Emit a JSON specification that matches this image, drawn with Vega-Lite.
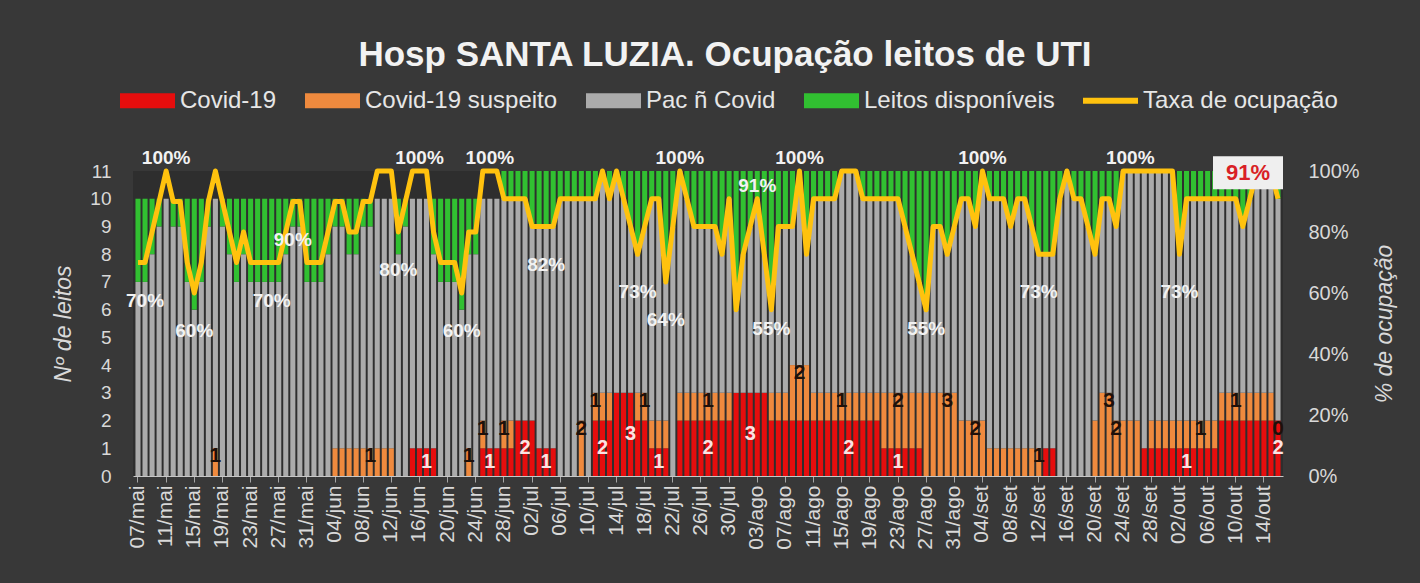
{
"$schema": "https://vega.github.io/schema/vega-lite/v6.json",
"width": 1150, "height": 305,
"autosize": {"type": "none"},
"padding": {"left": 133, "right": 137, "top": 171, "bottom": 107},
"background": "#383838",
"config": {"view": {"stroke": null, "fill": "#2e2e2e"}},
"title": {"text": "Hosp SANTA LUZIA. Ocupação leitos de UTI", "font": "Liberation Sans", "fontSize": 35, "fontWeight": "bold", "color": "#f2f2f2", "anchor": "middle", "frame": "group", "offset": 0, "dx": 17},
"data": {"values": [
{"dia":"07/mai","covid":0,"suspeito":0,"naoCovid":7,"disponiveis":3,"taxa":0.7},
{"dia":"08/mai","covid":0,"suspeito":0,"naoCovid":7,"disponiveis":3,"taxa":0.7,"rt":1},
{"dia":"09/mai","covid":0,"suspeito":0,"naoCovid":8,"disponiveis":2,"taxa":0.8},
{"dia":"10/mai","covid":0,"suspeito":0,"naoCovid":9,"disponiveis":1,"taxa":0.9},
{"dia":"11/mai","covid":0,"suspeito":0,"naoCovid":10,"disponiveis":0,"taxa":1,"rt":1},
{"dia":"12/mai","covid":0,"suspeito":0,"naoCovid":9,"disponiveis":1,"taxa":0.9},
{"dia":"13/mai","covid":0,"suspeito":0,"naoCovid":9,"disponiveis":1,"taxa":0.9},
{"dia":"14/mai","covid":0,"suspeito":0,"naoCovid":7,"disponiveis":3,"taxa":0.7},
{"dia":"15/mai","covid":0,"suspeito":0,"naoCovid":6,"disponiveis":4,"taxa":0.6,"rt":1},
{"dia":"16/mai","covid":0,"suspeito":0,"naoCovid":7,"disponiveis":3,"taxa":0.7},
{"dia":"17/mai","covid":0,"suspeito":0,"naoCovid":9,"disponiveis":1,"taxa":0.9},
{"dia":"18/mai","covid":0,"suspeito":1,"naoCovid":9,"disponiveis":0,"taxa":1,"rs":1},
{"dia":"19/mai","covid":0,"suspeito":0,"naoCovid":9,"disponiveis":1,"taxa":0.9},
{"dia":"20/mai","covid":0,"suspeito":0,"naoCovid":8,"disponiveis":2,"taxa":0.8},
{"dia":"21/mai","covid":0,"suspeito":0,"naoCovid":7,"disponiveis":3,"taxa":0.7},
{"dia":"22/mai","covid":0,"suspeito":0,"naoCovid":8,"disponiveis":2,"taxa":0.8},
{"dia":"23/mai","covid":0,"suspeito":0,"naoCovid":7,"disponiveis":3,"taxa":0.7},
{"dia":"24/mai","covid":0,"suspeito":0,"naoCovid":7,"disponiveis":3,"taxa":0.7},
{"dia":"25/mai","covid":0,"suspeito":0,"naoCovid":7,"disponiveis":3,"taxa":0.7},
{"dia":"26/mai","covid":0,"suspeito":0,"naoCovid":7,"disponiveis":3,"taxa":0.7,"rt":1},
{"dia":"27/mai","covid":0,"suspeito":0,"naoCovid":7,"disponiveis":3,"taxa":0.7},
{"dia":"28/mai","covid":0,"suspeito":0,"naoCovid":8,"disponiveis":2,"taxa":0.8},
{"dia":"29/mai","covid":0,"suspeito":0,"naoCovid":9,"disponiveis":1,"taxa":0.9,"rt":1},
{"dia":"30/mai","covid":0,"suspeito":0,"naoCovid":9,"disponiveis":1,"taxa":0.9},
{"dia":"31/mai","covid":0,"suspeito":0,"naoCovid":7,"disponiveis":3,"taxa":0.7},
{"dia":"01/jun","covid":0,"suspeito":0,"naoCovid":7,"disponiveis":3,"taxa":0.7},
{"dia":"02/jun","covid":0,"suspeito":0,"naoCovid":7,"disponiveis":3,"taxa":0.7},
{"dia":"03/jun","covid":0,"suspeito":0,"naoCovid":8,"disponiveis":2,"taxa":0.8},
{"dia":"04/jun","covid":0,"suspeito":1,"naoCovid":8,"disponiveis":1,"taxa":0.9},
{"dia":"05/jun","covid":0,"suspeito":1,"naoCovid":8,"disponiveis":1,"taxa":0.9},
{"dia":"06/jun","covid":0,"suspeito":1,"naoCovid":7,"disponiveis":2,"taxa":0.8},
{"dia":"07/jun","covid":0,"suspeito":1,"naoCovid":7,"disponiveis":2,"taxa":0.8},
{"dia":"08/jun","covid":0,"suspeito":1,"naoCovid":8,"disponiveis":1,"taxa":0.9},
{"dia":"09/jun","covid":0,"suspeito":1,"naoCovid":8,"disponiveis":1,"taxa":0.9,"rs":1},
{"dia":"10/jun","covid":0,"suspeito":1,"naoCovid":9,"disponiveis":0,"taxa":1},
{"dia":"11/jun","covid":0,"suspeito":1,"naoCovid":9,"disponiveis":0,"taxa":1},
{"dia":"12/jun","covid":0,"suspeito":1,"naoCovid":9,"disponiveis":0,"taxa":1},
{"dia":"13/jun","covid":0,"suspeito":0,"naoCovid":8,"disponiveis":2,"taxa":0.8,"rt":1},
{"dia":"14/jun","covid":0,"suspeito":0,"naoCovid":9,"disponiveis":1,"taxa":0.9},
{"dia":"15/jun","covid":1,"suspeito":0,"naoCovid":9,"disponiveis":0,"taxa":1},
{"dia":"16/jun","covid":1,"suspeito":0,"naoCovid":9,"disponiveis":0,"taxa":1,"rt":1},
{"dia":"17/jun","covid":1,"suspeito":0,"naoCovid":9,"disponiveis":0,"taxa":1,"rc":1},
{"dia":"18/jun","covid":1,"suspeito":0,"naoCovid":7,"disponiveis":2,"taxa":0.8},
{"dia":"19/jun","covid":0,"suspeito":0,"naoCovid":7,"disponiveis":3,"taxa":0.7},
{"dia":"20/jun","covid":0,"suspeito":0,"naoCovid":7,"disponiveis":3,"taxa":0.7},
{"dia":"21/jun","covid":0,"suspeito":0,"naoCovid":7,"disponiveis":3,"taxa":0.7},
{"dia":"22/jun","covid":0,"suspeito":0,"naoCovid":6,"disponiveis":4,"taxa":0.6,"rt":1},
{"dia":"23/jun","covid":0,"suspeito":1,"naoCovid":7,"disponiveis":2,"taxa":0.8,"rs":1},
{"dia":"24/jun","covid":0,"suspeito":0,"naoCovid":8,"disponiveis":2,"taxa":0.8},
{"dia":"25/jun","covid":1,"suspeito":1,"naoCovid":8,"disponiveis":0,"taxa":1,"rs":1},
{"dia":"26/jun","covid":1,"suspeito":0,"naoCovid":9,"disponiveis":0,"taxa":1,"rc":1,"rt":1},
{"dia":"27/jun","covid":1,"suspeito":0,"naoCovid":9,"disponiveis":0,"taxa":1},
{"dia":"28/jun","covid":1,"suspeito":1,"naoCovid":8,"disponiveis":1,"taxa":0.909,"rs":1},
{"dia":"29/jun","covid":1,"suspeito":1,"naoCovid":8,"disponiveis":1,"taxa":0.909},
{"dia":"30/jun","covid":2,"suspeito":0,"naoCovid":8,"disponiveis":1,"taxa":0.909},
{"dia":"01/jul","covid":2,"suspeito":0,"naoCovid":8,"disponiveis":1,"taxa":0.909,"rc":1},
{"dia":"02/jul","covid":2,"suspeito":0,"naoCovid":7,"disponiveis":2,"taxa":0.818},
{"dia":"03/jul","covid":1,"suspeito":0,"naoCovid":8,"disponiveis":2,"taxa":0.818},
{"dia":"04/jul","covid":1,"suspeito":0,"naoCovid":8,"disponiveis":2,"taxa":0.818,"rc":1,"rt":1},
{"dia":"05/jul","covid":1,"suspeito":0,"naoCovid":8,"disponiveis":2,"taxa":0.818},
{"dia":"06/jul","covid":0,"suspeito":0,"naoCovid":10,"disponiveis":1,"taxa":0.909},
{"dia":"07/jul","covid":0,"suspeito":0,"naoCovid":10,"disponiveis":1,"taxa":0.909},
{"dia":"08/jul","covid":0,"suspeito":0,"naoCovid":10,"disponiveis":1,"taxa":0.909},
{"dia":"09/jul","covid":0,"suspeito":2,"naoCovid":8,"disponiveis":1,"taxa":0.909,"rs":1},
{"dia":"10/jul","covid":0,"suspeito":0,"naoCovid":10,"disponiveis":1,"taxa":0.909},
{"dia":"11/jul","covid":2,"suspeito":1,"naoCovid":7,"disponiveis":1,"taxa":0.909,"rs":1},
{"dia":"12/jul","covid":2,"suspeito":1,"naoCovid":8,"disponiveis":0,"taxa":1,"rc":1},
{"dia":"13/jul","covid":2,"suspeito":1,"naoCovid":7,"disponiveis":1,"taxa":0.909},
{"dia":"14/jul","covid":3,"suspeito":0,"naoCovid":8,"disponiveis":0,"taxa":1},
{"dia":"15/jul","covid":3,"suspeito":0,"naoCovid":7,"disponiveis":1,"taxa":0.909},
{"dia":"16/jul","covid":3,"suspeito":0,"naoCovid":6,"disponiveis":2,"taxa":0.818,"rc":1},
{"dia":"17/jul","covid":2,"suspeito":1,"naoCovid":5,"disponiveis":3,"taxa":0.727,"rt":1},
{"dia":"18/jul","covid":2,"suspeito":1,"naoCovid":6,"disponiveis":2,"taxa":0.818,"rs":1},
{"dia":"19/jul","covid":1,"suspeito":1,"naoCovid":8,"disponiveis":1,"taxa":0.909},
{"dia":"20/jul","covid":1,"suspeito":1,"naoCovid":8,"disponiveis":1,"taxa":0.909,"rc":1},
{"dia":"21/jul","covid":1,"suspeito":1,"naoCovid":5,"disponiveis":4,"taxa":0.636,"rt":1},
{"dia":"22/jul","covid":0,"suspeito":0,"naoCovid":9,"disponiveis":2,"taxa":0.818},
{"dia":"23/jul","covid":2,"suspeito":1,"naoCovid":8,"disponiveis":0,"taxa":1,"rt":1},
{"dia":"24/jul","covid":2,"suspeito":1,"naoCovid":7,"disponiveis":1,"taxa":0.909},
{"dia":"25/jul","covid":2,"suspeito":1,"naoCovid":6,"disponiveis":2,"taxa":0.818},
{"dia":"26/jul","covid":2,"suspeito":1,"naoCovid":6,"disponiveis":2,"taxa":0.818},
{"dia":"27/jul","covid":2,"suspeito":1,"naoCovid":6,"disponiveis":2,"taxa":0.818,"rc":1,"rs":1},
{"dia":"28/jul","covid":2,"suspeito":1,"naoCovid":6,"disponiveis":2,"taxa":0.818},
{"dia":"29/jul","covid":2,"suspeito":1,"naoCovid":5,"disponiveis":3,"taxa":0.727},
{"dia":"30/jul","covid":2,"suspeito":1,"naoCovid":7,"disponiveis":1,"taxa":0.909},
{"dia":"31/jul","covid":3,"suspeito":0,"naoCovid":3,"disponiveis":5,"taxa":0.545},
{"dia":"01/ago","covid":3,"suspeito":0,"naoCovid":5,"disponiveis":3,"taxa":0.727},
{"dia":"02/ago","covid":3,"suspeito":0,"naoCovid":6,"disponiveis":2,"taxa":0.818,"rc":1},
{"dia":"03/ago","covid":3,"suspeito":0,"naoCovid":7,"disponiveis":1,"taxa":0.909,"rt":1},
{"dia":"04/ago","covid":3,"suspeito":0,"naoCovid":5,"disponiveis":3,"taxa":0.727},
{"dia":"05/ago","covid":2,"suspeito":1,"naoCovid":3,"disponiveis":5,"taxa":0.545,"rt":1},
{"dia":"06/ago","covid":2,"suspeito":1,"naoCovid":6,"disponiveis":2,"taxa":0.818},
{"dia":"07/ago","covid":2,"suspeito":1,"naoCovid":6,"disponiveis":2,"taxa":0.818},
{"dia":"08/ago","covid":2,"suspeito":2,"naoCovid":5,"disponiveis":2,"taxa":0.818},
{"dia":"09/ago","covid":2,"suspeito":2,"naoCovid":7,"disponiveis":0,"taxa":1,"rs":1,"rt":1},
{"dia":"10/ago","covid":2,"suspeito":2,"naoCovid":4,"disponiveis":3,"taxa":0.727},
{"dia":"11/ago","covid":2,"suspeito":1,"naoCovid":7,"disponiveis":1,"taxa":0.909},
{"dia":"12/ago","covid":2,"suspeito":1,"naoCovid":7,"disponiveis":1,"taxa":0.909},
{"dia":"13/ago","covid":2,"suspeito":1,"naoCovid":7,"disponiveis":1,"taxa":0.909},
{"dia":"14/ago","covid":2,"suspeito":1,"naoCovid":7,"disponiveis":1,"taxa":0.909},
{"dia":"15/ago","covid":2,"suspeito":1,"naoCovid":8,"disponiveis":0,"taxa":1,"rs":1},
{"dia":"16/ago","covid":2,"suspeito":1,"naoCovid":8,"disponiveis":0,"taxa":1,"rc":1},
{"dia":"17/ago","covid":2,"suspeito":1,"naoCovid":8,"disponiveis":0,"taxa":1},
{"dia":"18/ago","covid":2,"suspeito":1,"naoCovid":7,"disponiveis":1,"taxa":0.909},
{"dia":"19/ago","covid":2,"suspeito":1,"naoCovid":7,"disponiveis":1,"taxa":0.909},
{"dia":"20/ago","covid":2,"suspeito":1,"naoCovid":7,"disponiveis":1,"taxa":0.909},
{"dia":"21/ago","covid":1,"suspeito":2,"naoCovid":7,"disponiveis":1,"taxa":0.909},
{"dia":"22/ago","covid":1,"suspeito":2,"naoCovid":7,"disponiveis":1,"taxa":0.909},
{"dia":"23/ago","covid":1,"suspeito":2,"naoCovid":7,"disponiveis":1,"taxa":0.909,"rc":1,"rs":1},
{"dia":"24/ago","covid":1,"suspeito":2,"naoCovid":6,"disponiveis":2,"taxa":0.818},
{"dia":"25/ago","covid":1,"suspeito":2,"naoCovid":5,"disponiveis":3,"taxa":0.727},
{"dia":"26/ago","covid":1,"suspeito":2,"naoCovid":4,"disponiveis":4,"taxa":0.636},
{"dia":"27/ago","covid":0,"suspeito":3,"naoCovid":3,"disponiveis":5,"taxa":0.545,"rt":1},
{"dia":"28/ago","covid":0,"suspeito":3,"naoCovid":6,"disponiveis":2,"taxa":0.818},
{"dia":"29/ago","covid":0,"suspeito":3,"naoCovid":6,"disponiveis":2,"taxa":0.818},
{"dia":"30/ago","covid":0,"suspeito":3,"naoCovid":5,"disponiveis":3,"taxa":0.727,"rs":1},
{"dia":"31/ago","covid":0,"suspeito":3,"naoCovid":6,"disponiveis":2,"taxa":0.818},
{"dia":"01/set","covid":0,"suspeito":2,"naoCovid":8,"disponiveis":1,"taxa":0.909},
{"dia":"02/set","covid":0,"suspeito":2,"naoCovid":8,"disponiveis":1,"taxa":0.909},
{"dia":"03/set","covid":0,"suspeito":2,"naoCovid":7,"disponiveis":2,"taxa":0.818,"rs":1},
{"dia":"04/set","covid":0,"suspeito":2,"naoCovid":9,"disponiveis":0,"taxa":1,"rt":1},
{"dia":"05/set","covid":0,"suspeito":1,"naoCovid":9,"disponiveis":1,"taxa":0.909},
{"dia":"06/set","covid":0,"suspeito":1,"naoCovid":9,"disponiveis":1,"taxa":0.909},
{"dia":"07/set","covid":0,"suspeito":1,"naoCovid":9,"disponiveis":1,"taxa":0.909},
{"dia":"08/set","covid":0,"suspeito":1,"naoCovid":8,"disponiveis":2,"taxa":0.818},
{"dia":"09/set","covid":0,"suspeito":1,"naoCovid":9,"disponiveis":1,"taxa":0.909},
{"dia":"10/set","covid":0,"suspeito":1,"naoCovid":9,"disponiveis":1,"taxa":0.909},
{"dia":"11/set","covid":0,"suspeito":1,"naoCovid":8,"disponiveis":2,"taxa":0.818},
{"dia":"12/set","covid":0,"suspeito":1,"naoCovid":7,"disponiveis":3,"taxa":0.727,"rs":1,"rt":1},
{"dia":"13/set","covid":1,"suspeito":0,"naoCovid":7,"disponiveis":3,"taxa":0.727},
{"dia":"14/set","covid":1,"suspeito":0,"naoCovid":7,"disponiveis":3,"taxa":0.727},
{"dia":"15/set","covid":0,"suspeito":0,"naoCovid":10,"disponiveis":1,"taxa":0.909},
{"dia":"16/set","covid":0,"suspeito":0,"naoCovid":11,"disponiveis":0,"taxa":1},
{"dia":"17/set","covid":0,"suspeito":0,"naoCovid":10,"disponiveis":1,"taxa":0.909},
{"dia":"18/set","covid":0,"suspeito":0,"naoCovid":10,"disponiveis":1,"taxa":0.909},
{"dia":"19/set","covid":0,"suspeito":0,"naoCovid":9,"disponiveis":2,"taxa":0.818},
{"dia":"20/set","covid":0,"suspeito":2,"naoCovid":6,"disponiveis":3,"taxa":0.727},
{"dia":"21/set","covid":0,"suspeito":3,"naoCovid":7,"disponiveis":1,"taxa":0.909},
{"dia":"22/set","covid":0,"suspeito":3,"naoCovid":7,"disponiveis":1,"taxa":0.909,"rs":1},
{"dia":"23/set","covid":0,"suspeito":2,"naoCovid":7,"disponiveis":2,"taxa":0.818,"rs":1},
{"dia":"24/set","covid":0,"suspeito":2,"naoCovid":9,"disponiveis":0,"taxa":1},
{"dia":"25/set","covid":0,"suspeito":2,"naoCovid":9,"disponiveis":0,"taxa":1,"rt":1},
{"dia":"26/set","covid":0,"suspeito":2,"naoCovid":9,"disponiveis":0,"taxa":1},
{"dia":"27/set","covid":1,"suspeito":0,"naoCovid":10,"disponiveis":0,"taxa":1},
{"dia":"28/set","covid":1,"suspeito":1,"naoCovid":9,"disponiveis":0,"taxa":1},
{"dia":"29/set","covid":1,"suspeito":1,"naoCovid":9,"disponiveis":0,"taxa":1},
{"dia":"30/set","covid":1,"suspeito":1,"naoCovid":9,"disponiveis":0,"taxa":1},
{"dia":"01/out","covid":1,"suspeito":1,"naoCovid":9,"disponiveis":0,"taxa":1},
{"dia":"02/out","covid":1,"suspeito":1,"naoCovid":6,"disponiveis":3,"taxa":0.727,"rt":1},
{"dia":"03/out","covid":1,"suspeito":1,"naoCovid":8,"disponiveis":1,"taxa":0.909,"rc":1},
{"dia":"04/out","covid":1,"suspeito":1,"naoCovid":8,"disponiveis":1,"taxa":0.909},
{"dia":"05/out","covid":1,"suspeito":1,"naoCovid":8,"disponiveis":1,"taxa":0.909,"rs":1},
{"dia":"06/out","covid":1,"suspeito":1,"naoCovid":8,"disponiveis":1,"taxa":0.909},
{"dia":"07/out","covid":1,"suspeito":1,"naoCovid":8,"disponiveis":1,"taxa":0.909},
{"dia":"08/out","covid":2,"suspeito":1,"naoCovid":7,"disponiveis":1,"taxa":0.909},
{"dia":"09/out","covid":2,"suspeito":1,"naoCovid":7,"disponiveis":1,"taxa":0.909},
{"dia":"10/out","covid":2,"suspeito":1,"naoCovid":7,"disponiveis":1,"taxa":0.909,"rs":1},
{"dia":"11/out","covid":2,"suspeito":1,"naoCovid":6,"disponiveis":2,"taxa":0.818},
{"dia":"12/out","covid":2,"suspeito":1,"naoCovid":7,"disponiveis":1,"taxa":0.909},
{"dia":"13/out","covid":2,"suspeito":1,"naoCovid":8,"disponiveis":0,"taxa":1},
{"dia":"14/out","covid":2,"suspeito":1,"naoCovid":8,"disponiveis":0,"taxa":1},
{"dia":"15/out","covid":2,"suspeito":1,"naoCovid":8,"disponiveis":0,"taxa":1},
{"dia":"16/out","covid":2,"suspeito":0,"naoCovid":8,"disponiveis":1,"taxa":0.909,"rc":1,"rs":1,"ultimo":1}
]},
"encoding": {
  "x": {"field": "dia", "type": "ordinal", "sort": null,
    "scale": {"paddingInner": 0.28, "paddingOuter": 0.35},
    "axis": {"title": null, "values": ["07/mai","11/mai","15/mai","19/mai","23/mai","27/mai","31/mai","04/jun","08/jun","12/jun","16/jun","20/jun","24/jun","28/jun","02/jul","06/jul","10/jul","14/jul","18/jul","22/jul","26/jul","30/jul","03/ago","07/ago","11/ago","15/ago","19/ago","23/ago","27/ago","31/ago","04/set","08/set","12/set","16/set","20/set","24/set","28/set","02/out","06/out","10/out","14/out"],
      "labelAngle": 270, "labelFont": "Liberation Sans", "labelFontSize": 21, "labelColor": "#d9d9d9", "labelPadding": 3,
      "tickColor": "#a6a6a6", "tickSize": 6, "domainColor": "#c8c8c8", "grid": false}}
},
"layer": [
  {"transform": [{"fold": ["covid", "suspeito", "naoCovid", "disponiveis"], "as": ["serie", "leitos"]},
                 {"calculate": "indexof(['covid', 'suspeito', 'naoCovid', 'disponiveis'], datum.serie)", "as": "ordem"}],
   "mark": {"type": "bar"},
   "encoding": {
     "y": {"field": "leitos", "type": "quantitative", "stack": "zero",
       "scale": {"domain": [0, 11], "nice": false},
       "axis": {"values": [0,1,2,3,4,5,6,7,8,9,10,11], "grid": false, "domain": false, "ticks": false,
         "labelFont": "Liberation Sans", "labelFontSize": 19, "labelColor": "#d9d9d9", "labelPadding": 22,
         "title": "Nº de leitos", "titleFont": "Liberation Sans", "titleFontSize": 23, "titleFontStyle": "italic", "titleFontWeight": "normal", "titleColor": "#d9d9d9", "titlePadding": 14}},
     "order": {"field": "ordem", "type": "quantitative", "sort": "ascending"},
     "color": {"field": "serie", "type": "nominal",
       "scale": {"domain": ["covid", "suspeito", "naoCovid", "disponiveis", "taxa"], "range": ["#e60d0d", "#ef8a3e", "#ababab", "#31c031", "#ffc20e"]},
       "legend": {"orient": "none", "legendX": -13, "legendY": -98, "direction": "horizontal", "title": null, "padding": 0,
         "symbolSize": 3025, "symbolType": "M-1,-0.27H1V0.27H-1Z", "symbolStrokeWidth": 0, "symbolOpacity": 1,
         "labelFont": "Liberation Sans", "labelFontSize": 24, "labelColor": "#e6e6e6", "labelOffset": 5, "labelLimit": 400, "columnPadding": 28,
         "labelExpr": "datum.label == 'covid' ? 'Covid-19' : datum.label == 'suspeito' ? 'Covid-19 suspeito' : datum.label == 'naoCovid' ? 'Pac ñ Covid' : datum.label == 'disponiveis' ? 'Leitos disponíveis' : 'Taxa de ocupação'",
         "encode": {"symbols": {"update": {"shape": {"signal": "datum.value == 'taxa' ? 'M-1,-0.11H1V0.11H-1Z' : 'M-1,-0.27H1V0.27H-1Z'"}, "fill": {"scale": "color", "field": "value"}, "strokeWidth": {"value": 0}}}}}}
   }},
  {"transform": [{"filter": "datum.rc"}, {"calculate": "datum.covid / 2", "as": "yCovid"}],
   "mark": {"type": "text", "font": "Liberation Sans", "fontWeight": "bold", "fontSize": 20, "color": "#fbe3e3", "baseline": "middle"},
   "encoding": {"y": {"field": "yCovid", "type": "quantitative", "scale": {"domain": [0, 11], "nice": false}, "axis": null},
     "text": {"field": "covid", "type": "quantitative"}}},
  {"transform": [{"filter": "datum.rs"}, {"calculate": "datum.covid + datum.suspeito", "as": "ySusp"}],
   "mark": {"type": "text", "font": "Liberation Sans", "fontWeight": "bold", "fontSize": 21, "color": "#1e100a", "baseline": "middle", "dy": 8},
   "encoding": {"y": {"field": "ySusp", "type": "quantitative", "scale": {"domain": [0, 11], "nice": false}, "axis": null},
     "text": {"field": "suspeito", "type": "quantitative"}}},
  {"mark": {"type": "line", "strokeWidth": 5, "strokeJoin": "round"},
   "encoding": {"y": {"field": "taxa", "type": "quantitative", "scale": {"domain": [0, 1], "nice": false},
       "axis": {"orient": "right", "format": ".0%", "values": [0, 0.2, 0.4, 0.6, 0.8, 1], "grid": false, "domain": false, "ticks": false,
         "labelFont": "Liberation Sans", "labelFontSize": 20, "labelColor": "#d9d9d9", "labelPadding": 25,
         "title": "% de ocupação", "titleAngle": 270, "titleFont": "Liberation Sans", "titleFontSize": 23, "titleFontStyle": "italic", "titleFontWeight": "normal", "titleColor": "#d9d9d9", "titlePadding": 37}},
     "color": {"datum": "taxa", "type": "nominal"}}},
  {"transform": [{"filter": "datum.rt && !datum.ultimo && datum.taxa > 0.905"}],
   "mark": {"type": "text", "font": "Liberation Sans", "fontWeight": "bold", "fontSize": 19, "color": "#f2f2f2", "baseline": "middle", "dy": -13},
   "encoding": {"y": {"field": "taxa", "type": "quantitative", "scale": {"domain": [0, 1], "nice": false}, "axis": null},
     "text": {"field": "taxa", "type": "quantitative", "format": ".0%"}}},
  {"transform": [{"filter": "datum.rt && datum.taxa <= 0.905 && datum.taxa >= 0.58"}],
   "mark": {"type": "text", "font": "Liberation Sans", "fontWeight": "bold", "fontSize": 19, "color": "#f2f2f2", "baseline": "middle", "dy": 38},
   "encoding": {"y": {"field": "taxa", "type": "quantitative", "scale": {"domain": [0, 1], "nice": false}, "axis": null},
     "text": {"field": "taxa", "type": "quantitative", "format": ".0%"}}},
  {"transform": [{"filter": "datum.rt && datum.taxa < 0.58"}],
   "mark": {"type": "text", "font": "Liberation Sans", "fontWeight": "bold", "fontSize": 19, "color": "#f2f2f2", "baseline": "middle", "dy": 19},
   "encoding": {"y": {"field": "taxa", "type": "quantitative", "scale": {"domain": [0, 1], "nice": false}, "axis": null},
     "text": {"field": "taxa", "type": "quantitative", "format": ".0%"}}},
  {"transform": [{"filter": "datum.ultimo"}],
   "mark": {"type": "point", "shape": "M-1,-0.47H1V0.47H-1Z", "size": 4900, "filled": true, "opacity": 1, "color": "#efefef", "xOffset": -30, "yOffset": -26},
   "encoding": {"y": {"field": "taxa", "type": "quantitative", "scale": {"domain": [0, 1], "nice": false}, "axis": null}}},
  {"transform": [{"filter": "datum.ultimo"}],
   "mark": {"type": "text", "font": "Liberation Sans", "fontWeight": "bold", "fontSize": 22, "color": "#d91f26", "baseline": "middle", "xOffset": -30, "yOffset": -26},
   "encoding": {"y": {"field": "taxa", "type": "quantitative", "scale": {"domain": [0, 1], "nice": false}, "axis": null},
     "text": {"field": "taxa", "type": "quantitative", "format": ".0%"}}}
],
"resolve": {"scale": {"y": "independent"}, "axis": {"y": "independent"}}
}
